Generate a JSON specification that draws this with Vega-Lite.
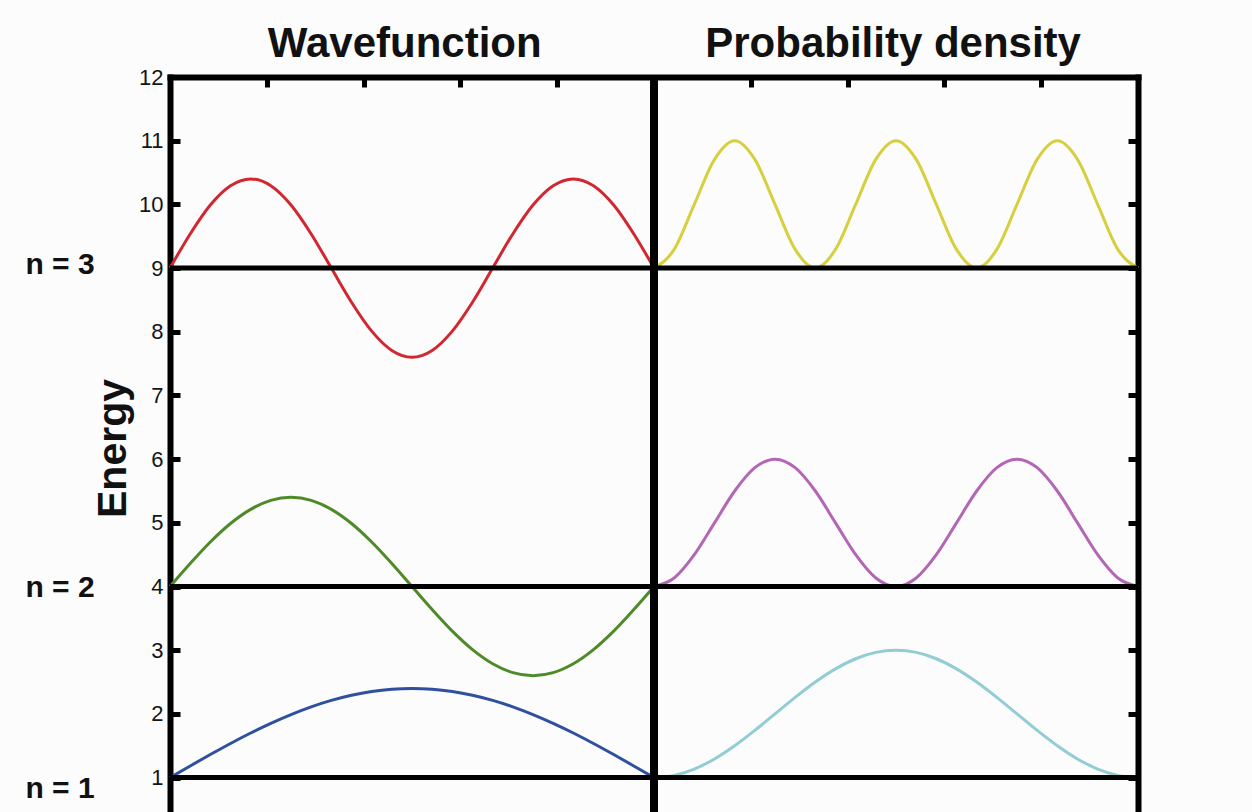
{
  "$schema": "https://vega.github.io/schema/vega-lite/v6.json",
  "width": 968,
  "height": 735,
  "autosize": {"type": "none"},
  "padding": {"left": 170, "top": 77, "right": 114, "bottom": 0},
  "background": "#fcfcfc",
  "config": {"view": {"stroke": null}, "font": "Liberation Sans"},
  "resolve": {"axis": {"y": "independent", "x": "independent"}},
  "datasets": {
    "curves": [
      {"c":"psi1","x":0,"y":1.000},{"c":"psi1","x":0.0417,"y":1.183},{"c":"psi1","x":0.0833,"y":1.362},{"c":"psi1","x":0.125,"y":1.536},{"c":"psi1","x":0.1667,"y":1.700},{"c":"psi1","x":0.2083,"y":1.852},{"c":"psi1","x":0.25,"y":1.990},{"c":"psi1","x":0.2917,"y":2.111},{"c":"psi1","x":0.3333,"y":2.212},{"c":"psi1","x":0.375,"y":2.293},{"c":"psi1","x":0.4167,"y":2.352},{"c":"psi1","x":0.4583,"y":2.388},{"c":"psi1","x":0.5,"y":2.400},{"c":"psi1","x":0.5417,"y":2.388},{"c":"psi1","x":0.5833,"y":2.352},{"c":"psi1","x":0.625,"y":2.293},{"c":"psi1","x":0.6667,"y":2.212},{"c":"psi1","x":0.7083,"y":2.111},{"c":"psi1","x":0.75,"y":1.990},{"c":"psi1","x":0.7917,"y":1.852},{"c":"psi1","x":0.8333,"y":1.700},{"c":"psi1","x":0.875,"y":1.536},{"c":"psi1","x":0.9167,"y":1.362},{"c":"psi1","x":0.9583,"y":1.183},{"c":"psi1","x":1,"y":1.000},
      {"c":"psi2","x":0,"y":4.000},{"c":"psi2","x":0.0417,"y":4.362},{"c":"psi2","x":0.0833,"y":4.700},{"c":"psi2","x":0.125,"y":4.990},{"c":"psi2","x":0.1667,"y":5.212},{"c":"psi2","x":0.2083,"y":5.352},{"c":"psi2","x":0.25,"y":5.400},{"c":"psi2","x":0.2917,"y":5.352},{"c":"psi2","x":0.3333,"y":5.212},{"c":"psi2","x":0.375,"y":4.990},{"c":"psi2","x":0.4167,"y":4.700},{"c":"psi2","x":0.4583,"y":4.362},{"c":"psi2","x":0.5,"y":4.000},{"c":"psi2","x":0.5417,"y":3.638},{"c":"psi2","x":0.5833,"y":3.300},{"c":"psi2","x":0.625,"y":3.010},{"c":"psi2","x":0.6667,"y":2.788},{"c":"psi2","x":0.7083,"y":2.648},{"c":"psi2","x":0.75,"y":2.600},{"c":"psi2","x":0.7917,"y":2.648},{"c":"psi2","x":0.8333,"y":2.788},{"c":"psi2","x":0.875,"y":3.010},{"c":"psi2","x":0.9167,"y":3.300},{"c":"psi2","x":0.9583,"y":3.638},{"c":"psi2","x":1,"y":4.000},
      {"c":"psi3","x":0,"y":9.000},{"c":"psi3","x":0.0417,"y":9.536},{"c":"psi3","x":0.0833,"y":9.990},{"c":"psi3","x":0.125,"y":10.293},{"c":"psi3","x":0.1667,"y":10.400},{"c":"psi3","x":0.2083,"y":10.293},{"c":"psi3","x":0.25,"y":9.990},{"c":"psi3","x":0.2917,"y":9.536},{"c":"psi3","x":0.3333,"y":9.000},{"c":"psi3","x":0.375,"y":8.464},{"c":"psi3","x":0.4167,"y":8.010},{"c":"psi3","x":0.4583,"y":7.707},{"c":"psi3","x":0.5,"y":7.600},{"c":"psi3","x":0.5417,"y":7.707},{"c":"psi3","x":0.5833,"y":8.010},{"c":"psi3","x":0.625,"y":8.464},{"c":"psi3","x":0.6667,"y":9.000},{"c":"psi3","x":0.7083,"y":9.536},{"c":"psi3","x":0.75,"y":9.990},{"c":"psi3","x":0.7917,"y":10.293},{"c":"psi3","x":0.8333,"y":10.400},{"c":"psi3","x":0.875,"y":10.293},{"c":"psi3","x":0.9167,"y":9.990},{"c":"psi3","x":0.9583,"y":9.536},{"c":"psi3","x":1,"y":9.000},
      {"c":"d1","x":1,"y":1.000},{"c":"d1","x":1.0417,"y":1.034},{"c":"d1","x":1.0833,"y":1.134},{"c":"d1","x":1.125,"y":1.293},{"c":"d1","x":1.1667,"y":1.500},{"c":"d1","x":1.2083,"y":1.741},{"c":"d1","x":1.25,"y":2.000},{"c":"d1","x":1.2917,"y":2.259},{"c":"d1","x":1.3333,"y":2.500},{"c":"d1","x":1.375,"y":2.707},{"c":"d1","x":1.4167,"y":2.866},{"c":"d1","x":1.4583,"y":2.966},{"c":"d1","x":1.5,"y":3.000},{"c":"d1","x":1.5417,"y":2.966},{"c":"d1","x":1.5833,"y":2.866},{"c":"d1","x":1.625,"y":2.707},{"c":"d1","x":1.6667,"y":2.500},{"c":"d1","x":1.7083,"y":2.259},{"c":"d1","x":1.75,"y":2.000},{"c":"d1","x":1.7917,"y":1.741},{"c":"d1","x":1.8333,"y":1.500},{"c":"d1","x":1.875,"y":1.293},{"c":"d1","x":1.9167,"y":1.134},{"c":"d1","x":1.9583,"y":1.034},{"c":"d1","x":2,"y":1.000},
      {"c":"d2","x":1,"y":4.000},{"c":"d2","x":1.0417,"y":4.134},{"c":"d2","x":1.0833,"y":4.500},{"c":"d2","x":1.125,"y":5.000},{"c":"d2","x":1.1667,"y":5.500},{"c":"d2","x":1.2083,"y":5.866},{"c":"d2","x":1.25,"y":6.000},{"c":"d2","x":1.2917,"y":5.866},{"c":"d2","x":1.3333,"y":5.500},{"c":"d2","x":1.375,"y":5.000},{"c":"d2","x":1.4167,"y":4.500},{"c":"d2","x":1.4583,"y":4.134},{"c":"d2","x":1.5,"y":4.000},{"c":"d2","x":1.5417,"y":4.134},{"c":"d2","x":1.5833,"y":4.500},{"c":"d2","x":1.625,"y":5.000},{"c":"d2","x":1.6667,"y":5.500},{"c":"d2","x":1.7083,"y":5.866},{"c":"d2","x":1.75,"y":6.000},{"c":"d2","x":1.7917,"y":5.866},{"c":"d2","x":1.8333,"y":5.500},{"c":"d2","x":1.875,"y":5.000},{"c":"d2","x":1.9167,"y":4.500},{"c":"d2","x":1.9583,"y":4.134},{"c":"d2","x":2,"y":4.000},
      {"c":"d3","x":1,"y":9.000},{"c":"d3","x":1.0417,"y":9.293},{"c":"d3","x":1.0833,"y":10.000},{"c":"d3","x":1.125,"y":10.707},{"c":"d3","x":1.1667,"y":11.000},{"c":"d3","x":1.2083,"y":10.707},{"c":"d3","x":1.25,"y":10.000},{"c":"d3","x":1.2917,"y":9.293},{"c":"d3","x":1.3333,"y":9.000},{"c":"d3","x":1.375,"y":9.293},{"c":"d3","x":1.4167,"y":10.000},{"c":"d3","x":1.4583,"y":10.707},{"c":"d3","x":1.5,"y":11.000},{"c":"d3","x":1.5417,"y":10.707},{"c":"d3","x":1.5833,"y":10.000},{"c":"d3","x":1.625,"y":9.293},{"c":"d3","x":1.6667,"y":9.000},{"c":"d3","x":1.7083,"y":9.293},{"c":"d3","x":1.75,"y":10.000},{"c":"d3","x":1.7917,"y":10.707},{"c":"d3","x":1.8333,"y":11.000},{"c":"d3","x":1.875,"y":10.707},{"c":"d3","x":1.9167,"y":10.000},{"c":"d3","x":1.9583,"y":9.293},{"c":"d3","x":2,"y":9.000}
    ]
  },
  "layer": [
    {
      "data": {"name": "curves"},
      "mark": {"type": "line", "strokeWidth": 3, "interpolate": "monotone"},
      "encoding": {
        "x": {"field": "x", "type": "quantitative",
          "scale": {"domain": [0, 2], "nice": false, "zero": false},
          "axis": {"orient": "top", "values": [0.2, 0.4, 0.6, 0.8, 1.2, 1.4, 1.6, 1.8], "labels": false, "title": null,
            "tickSize": -10, "tickWidth": 5, "tickColor": "black", "domainColor": "black", "domainWidth": 6, "domainCap": "square", "grid": false}},
        "y": {"field": "y", "type": "quantitative",
          "scale": {"domain": [0.46, 12], "nice": false, "zero": false},
          "axis": {"orient": "left", "values": [1, 2, 3, 4, 5, 6, 7, 8, 9, 10, 11, 12], "title": "Energy",
            "titleFont": "Liberation Sans", "titleFontSize": 41, "titleFontWeight": "bold", "titleColor": "#111111",
            "titleAngle": -90, "titleX": -45, "titleY": 371, "titleAlign": "center", "titleBaseline": "alphabetic",
            "labelFont": "Liberation Sans", "labelFontSize": 22, "labelColor": "#151515", "labelPadding": 17,
            "labelFlush": false, "labelOverlap": false,
            "tickSize": -10, "tickWidth": 5, "tickColor": "black", "domainColor": "black", "domainWidth": 6, "domainCap": "square", "grid": false}},
        "color": {"field": "c", "type": "nominal",
          "scale": {"domain": ["psi1", "psi2", "psi3", "d1", "d2", "d3"],
                    "range": ["#2f4f9f", "#4f8a28", "#d22630", "#92ccd4", "#b366b6", "#d6cf3e"]},
          "legend": null}
      }
    },
    {
      "data": {"values": [{"level": 1}, {"level": 4}, {"level": 9}]},
      "mark": {"type": "rule", "color": "black", "strokeWidth": 5},
      "encoding": {
        "y": {"field": "level", "type": "quantitative",
          "scale": {"domain": [0.46, 12], "nice": false, "zero": false},
          "axis": {"orient": "right", "values": [1, 2, 3, 4, 5, 6, 7, 8, 9, 10, 11, 12], "labels": false, "title": null,
            "tickSize": -10, "tickWidth": 5, "tickColor": "black", "domainColor": "black", "domainWidth": 6, "domainCap": "square", "grid": false}}
      }
    },
    {
      "data": {"values": [{"div": 1}]},
      "mark": {"type": "rule", "color": "black", "strokeWidth": 8},
      "encoding": {
        "x": {"field": "div", "type": "quantitative", "scale": {"domain": [0, 2], "nice": false, "zero": false}, "axis": null}
      }
    },
    {
      "data": {"values": [{"tx": 0.485, "ty": 12, "label": "Wavefunction"}, {"tx": 1.494, "ty": 12, "label": "Probability density"}]},
      "mark": {"type": "text", "font": "Liberation Sans", "fontSize": 42, "fontWeight": "bold", "color": "#111111", "align": "center", "baseline": "alphabetic", "dy": -20},
      "encoding": {
        "x": {"field": "tx", "type": "quantitative", "scale": {"domain": [0, 2], "nice": false, "zero": false}, "axis": null},
        "y": {"field": "ty", "type": "quantitative", "scale": {"domain": [0.46, 12], "nice": false, "zero": false}, "axis": null},
        "text": {"field": "label"}
      }
    },
    {
      "data": {"values": [{"nx": 0, "ny": 9.05, "label": "n = 3"}, {"nx": 0, "ny": 3.97, "label": "n = 2"}, {"nx": 0, "ny": 0.82, "label": "n = 1"}]},
      "mark": {"type": "text", "font": "Liberation Sans", "fontSize": 30, "fontWeight": "bold", "color": "#111111", "align": "center", "baseline": "middle", "dx": -110},
      "encoding": {
        "x": {"field": "nx", "type": "quantitative", "scale": {"domain": [0, 2], "nice": false, "zero": false}, "axis": null},
        "y": {"field": "ny", "type": "quantitative", "scale": {"domain": [0.46, 12], "nice": false, "zero": false}, "axis": null},
        "text": {"field": "label"}
      }
    }
  ]
}
